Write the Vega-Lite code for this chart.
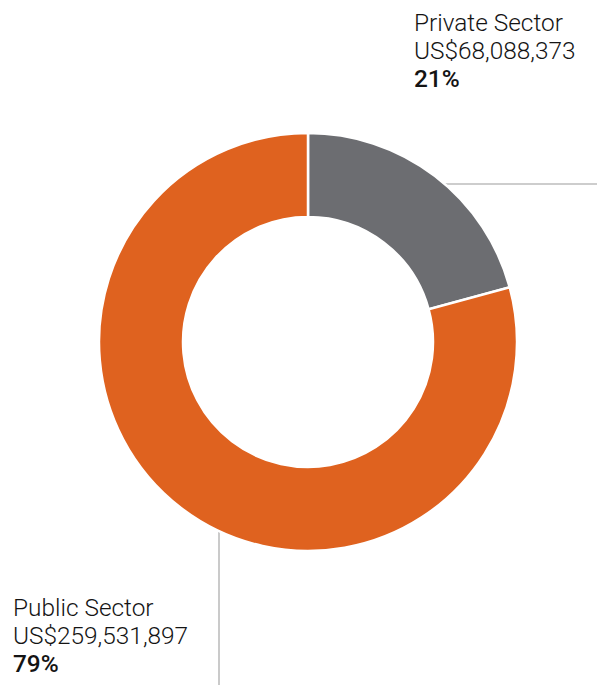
{
  "$schema": "https://vega.github.io/schema/vega-lite/v6.json",
  "width": 597,
  "height": 685,
  "autosize": {"type": "none"},
  "padding": 0,
  "background": "white",
  "config": {"view": {"stroke": null}},
  "datasets": {
    "shares": [
      {"sector": "Private Sector", "value": 68088373},
      {"sector": "Public Sector", "value": 259531897}
    ],
    "labels": [
      {"sector": "Private Sector", "amount": "US$68,088,373", "pct": "21%", "lx": 106, "ly": 311},
      {"sector": "Public Sector", "amount": "US$259,531,897", "pct": "79%", "lx": -295, "ly": -274}
    ],
    "leaders": [
      {"sector": "Private Sector", "x1": 132, "x2": 289, "y1": 158, "y2": 158},
      {"sector": "Public Sector", "x1": -89, "x2": -89, "y1": -190, "y2": -343}
    ]
  },
  "layer": [
    {
      "data": {"name": "leaders"},
      "mark": {"type": "rule", "color": "#bdbdbd", "strokeWidth": 1.6},
      "encoding": {
        "x": {"field": "x1", "type": "quantitative", "scale": {"domain": [-308, 289], "nice": false, "zero": false}, "axis": null},
        "x2": {"field": "x2"},
        "y": {"field": "y1", "type": "quantitative", "scale": {"domain": [-343, 342], "nice": false, "zero": false}, "axis": null},
        "y2": {"field": "y2"}
      }
    },
    {
      "data": {"name": "shares"},
      "mark": {"type": "arc", "outerRadius": 209, "innerRadius": 125, "stroke": "white", "strokeWidth": 2.5},
      "encoding": {
        "x": {"datum": 0, "type": "quantitative"},
        "y": {"datum": 0, "type": "quantitative"},
        "theta": {"field": "value", "type": "quantitative", "stack": true},
        "color": {"field": "sector", "type": "nominal", "legend": null,
          "scale": {"domain": ["Private Sector", "Public Sector"], "range": ["#6c6d71", "#df621f"]}}
      }
    },
    {
      "data": {"name": "labels"},
      "mark": {"type": "text", "align": "left", "baseline": "alphabetic", "font": "Roboto", "fontSize": 24.4, "fontWeight": 300, "color": "#141414"},
      "encoding": {
        "x": {"field": "lx", "type": "quantitative"},
        "y": {"field": "ly", "type": "quantitative"},
        "text": {"field": "sector"}
      }
    },
    {
      "data": {"name": "labels"},
      "mark": {"type": "text", "align": "left", "baseline": "alphabetic", "font": "Roboto", "fontSize": 24.4, "fontWeight": 300, "color": "#141414", "dy": 28},
      "encoding": {
        "x": {"field": "lx", "type": "quantitative"},
        "y": {"field": "ly", "type": "quantitative"},
        "text": {"field": "amount"}
      }
    },
    {
      "data": {"name": "labels"},
      "mark": {"type": "text", "align": "left", "baseline": "alphabetic", "font": "Roboto", "fontSize": 24.4, "fontWeight": 500, "color": "#141414", "dy": 56},
      "encoding": {
        "x": {"field": "lx", "type": "quantitative"},
        "y": {"field": "ly", "type": "quantitative"},
        "text": {"field": "pct"}
      }
    }
  ]
}
